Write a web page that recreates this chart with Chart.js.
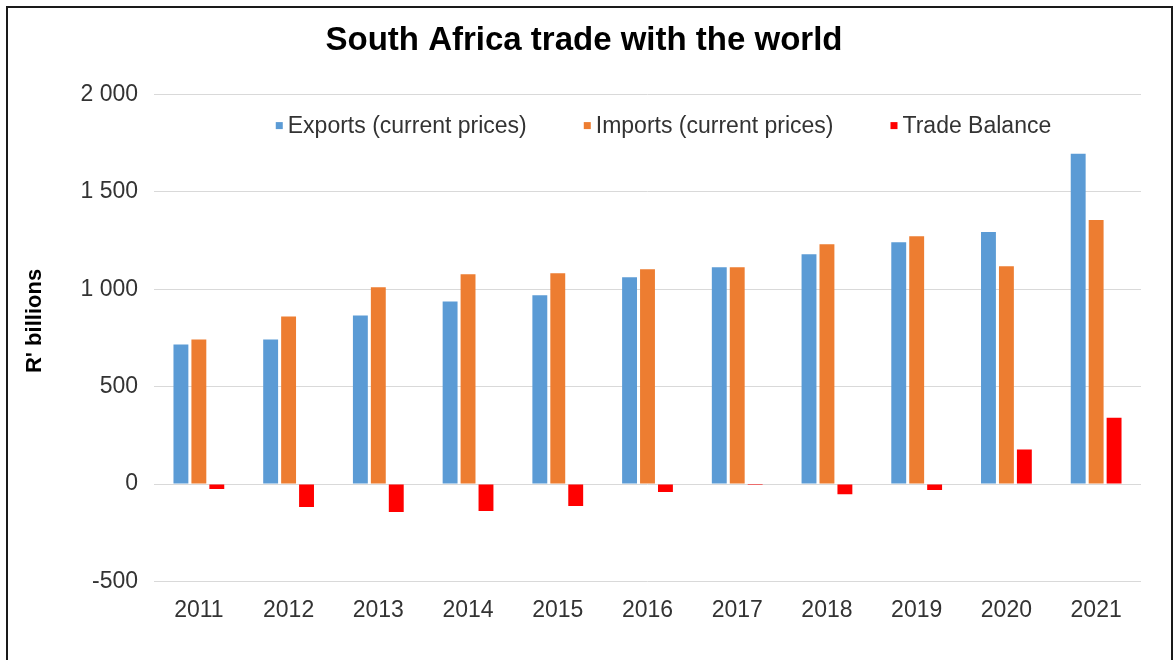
<!DOCTYPE html>
<html>
<head>
<meta charset="utf-8">
<script src="https://cdn.jsdelivr.net/npm/chart.js@4.4.0/dist/chart.umd.min.js"></script>
<style>
  html, body { margin: 0; padding: 0; background: #ffffff; }
  #wrap { position: relative; width: 1175px; height: 660px; overflow: hidden; }
  #frame { position: absolute; left: 6px; top: 6px; width: 1163px; height: 700px;
           border-left: 2px solid #1a1a1a; border-top: 2px solid #1a1a1a; border-right: 2px solid #1a1a1a;
           pointer-events: none; }
  canvas { position: absolute; left: 0; top: 0; }
</style>
</head>
<body>
<div id="wrap">
  <canvas id="c" width="1175" height="660"></canvas>
  <div id="frame"></div>
</div>
<script>
const years = ["2011","2012","2013","2014","2015","2016","2017","2018","2019","2020","2021"];
const exportsValues = [716, 742, 866, 938, 969, 1062, 1113, 1180, 1242, 1294, 1696];
const importsValues = [742, 860, 1010, 1077, 1082, 1103, 1113, 1232, 1273, 1118, 1356];
const balanceValues = [-26, -118, -144, -139, -113, -41, -5, -52, -31, 178, 340];
const yTicks = [-500, 0, 500, 1000, 1500, 2000];
const seriesNames = ["Exports (current prices)", "Imports (current prices)", "Trade Balance"];
const seriesColors = ['#5B9BD5', '#ED7D31', '#FF0000'];
const titleText = "South Africa trade with the world";
const yAxisTitle = "R' billions";

const fontFamily = "'Liberation Sans', Arial, sans-serif";
function fmt(v) { return String(v).replace(/\B(?=(\d{3})+(?!\d))/g, " "); }

const customText = {
  id: 'customText',
  afterDraw(chart) {
    const ctx = chart.ctx;
    const area = chart.chartArea;
    ctx.save();
    // legend inside plot area
    ctx.font = '23px ' + fontFamily;
    ctx.textBaseline = 'middle';
    ctx.textAlign = 'left';
    const box = 7, boxGap = 5, itemGap = 57;
    const items = chart.data.datasets.map(d => ({ text: d.label, color: d.backgroundColor, w: ctx.measureText(d.label).width }));
    const total = items.reduce((s, it) => s + box + boxGap + it.w, 0) + itemGap * (items.length - 1);
    let x = (area.left + area.right) / 2 + 16 - total / 2;
    const y = area.top + 31;
    items.forEach(it => {
      ctx.fillStyle = it.color;
      ctx.fillRect(x, y - box / 2, box, box);
      x += box + boxGap;
      ctx.fillStyle = '#333333';
      ctx.fillText(it.text, x, y + 1);
      x += it.w + itemGap;
    });
    // y axis title
    ctx.translate(35, 321);
    ctx.rotate(-Math.PI / 2);
    ctx.textAlign = 'center';
    ctx.font = 'bold 22px ' + fontFamily;
    ctx.fillStyle = '#000000';
    ctx.fillText(yAxisTitle, 0, 0);
    ctx.restore();
  }
};

new Chart(document.getElementById('c'), {
  type: 'bar',
  data: {
    labels: years,
    datasets: [
      { label: seriesNames[0], data: exportsValues, backgroundColor: seriesColors[0] },
      { label: seriesNames[1], data: importsValues, backgroundColor: seriesColors[1] },
      { label: seriesNames[2], data: balanceValues, backgroundColor: seriesColors[2] }
    ]
  },
  plugins: [customText],
  options: {
    responsive: false,
    animation: false,
    devicePixelRatio: 1,
    layout: { padding: { left: 27, right: 34, top: 0, bottom: 29 } },
    datasets: { bar: { categoryPercentage: 0.6, barPercentage: 0.83 } },
    plugins: {
      title: {
        display: true, text: titleText, color: '#000000',
        font: { family: fontFamily, size: 33, weight: 'bold' },
        padding: { top: 21, bottom: 34 }
      },
      legend: { display: false },
      tooltip: { enabled: false }
    },
    scales: {
      x: {
        grid: { display: false }, border: { display: false },
        ticks: { color: '#333333', padding: 7, font: { family: fontFamily, size: 23 } }
      },
      y: {
        min: -500, max: 2000,
        afterBuildTicks: (s) => { s.ticks = yTicks.map(v => ({ value: v })); },
        afterFit: (s) => { s.width = 127; },
        grid: { color: '#d9d9d9', drawTicks: false, lineWidth: 1 },
        border: { display: false },
        ticks: { color: '#333333', padding: 16, font: { family: fontFamily, size: 23 }, callback: (v) => fmt(v) }
      }
    }
  }
});
</script>
</body>
</html>
